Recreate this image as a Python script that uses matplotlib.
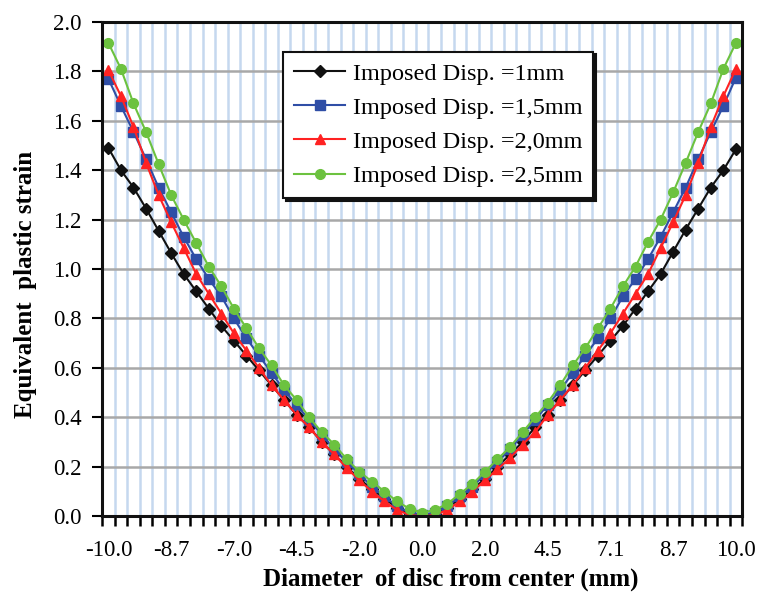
import matplotlib.pyplot as plt
from matplotlib.ticker import FixedLocator, NullFormatter

plt.rcParams['font.family'] = ['Liberation Serif', 'DejaVu Serif']

# 51 mesh nodes along the diameter, plotted as evenly spaced categories
n_points = 51
tick_idx = [0, 5, 10, 15, 20, 25, 30, 35, 40, 45, 50]
tick_labels = ['-10.0', '-8.7', '-7.0', '-4.5', '-2.0', '0.0',
               '2.0', '4.5', '7.1', '8.7', '10.0']

disp_1 = [1.49, 1.40, 1.33, 1.245, 1.155, 1.065, 0.98, 0.91, 0.84, 0.77,
          0.71, 0.65, 0.59, 0.53, 0.47, 0.41, 0.36, 0.30, 0.25, 0.20,
          0.15, 0.11, 0.07, 0.035, 0.01, 0.0, 0.01, 0.035, 0.07, 0.11,
          0.15, 0.20, 0.25, 0.30, 0.36, 0.41, 0.47, 0.53, 0.59, 0.65,
          0.71, 0.77, 0.84, 0.91, 0.98, 1.07, 1.16, 1.245, 1.33, 1.40, 1.485]
disp_15 = [1.77, 1.66, 1.555, 1.445, 1.33, 1.23, 1.13, 1.04, 0.96, 0.89,
           0.80, 0.72, 0.65, 0.58, 0.51, 0.45, 0.39, 0.33, 0.27, 0.22,
           0.17, 0.12, 0.08, 0.04, 0.015, 0.005, 0.015, 0.04, 0.08, 0.12,
           0.17, 0.22, 0.27, 0.33, 0.39, 0.45, 0.51, 0.58, 0.65, 0.72,
           0.80, 0.89, 0.96, 1.04, 1.13, 1.23, 1.33, 1.445, 1.555, 1.66, 1.775]
disp_20 = [1.805, 1.70, 1.575, 1.43, 1.30, 1.19, 1.085, 0.98, 0.90, 0.82,
           0.74, 0.67, 0.60, 0.53, 0.47, 0.41, 0.36, 0.30, 0.25, 0.195,
           0.145, 0.10, 0.06, 0.025, 0.005, 0.0, 0.005, 0.025, 0.06, 0.10,
           0.145, 0.19, 0.235, 0.29, 0.34, 0.41, 0.47, 0.53, 0.60, 0.67,
           0.74, 0.82, 0.90, 0.98, 1.085, 1.19, 1.30, 1.43, 1.575, 1.70, 1.81]
disp_25 = [1.915, 1.81, 1.67, 1.555, 1.425, 1.30, 1.20, 1.105, 1.01, 0.93,
           0.84, 0.76, 0.68, 0.61, 0.53, 0.47, 0.40, 0.34, 0.29, 0.23,
           0.18, 0.14, 0.10, 0.06, 0.03, 0.015, 0.025, 0.05, 0.09, 0.13,
           0.18, 0.23, 0.28, 0.34, 0.40, 0.46, 0.53, 0.61, 0.68, 0.76,
           0.84, 0.93, 1.01, 1.11, 1.20, 1.31, 1.43, 1.555, 1.67, 1.81, 1.915]

x = list(range(n_points))

fig = plt.figure(figsize=(7.62, 5.92), dpi=100)
ax = fig.add_axes([0.134, 0.128, 0.840, 0.835])

ax.plot(x, disp_1, '-D', color='#111111', lw=1.5, ms=6.5, label='Imposed Disp. =1mm')
ax.plot(x, disp_15, '-s', color='#2f4ea6', lw=1.5, ms=6.5, label='Imposed Disp. =1,5mm')
ax.plot(x, disp_20, '-^', color='#ff2222', lw=1.5, ms=7.5, label='Imposed Disp. =2,0mm')
ax.plot(x, disp_25, '-o', color='#6cc23f', lw=1.5, ms=7, label='Imposed Disp. =2,5mm')

ax.set_xlim(-0.5, n_points - 0.5)
ax.set_ylim(0, 2.0)

# category boundaries carry the tick marks and the blue grid
ax.xaxis.set_minor_locator(FixedLocator([i - 0.5 for i in range(n_points + 1)]))
ax.xaxis.set_minor_formatter(NullFormatter())
ax.set_xticks(tick_idx)
ax.set_xticklabels(tick_labels)
ax.tick_params(axis='x', which='major', length=0, pad=17, labelsize=16.5)
ax.tick_params(axis='x', which='minor', length=7, width=1.8, direction='out')
ax.grid(True, axis='x', which='minor', color='#c5d8ef', lw=1.8, zorder=0)

ax.set_yticks([i * 0.2 for i in range(11)])
ax.set_yticklabels(['%.1f' % (i * 0.2) for i in range(11)])
ax.tick_params(axis='y', length=7, width=1.5, pad=8, labelsize=16.5)
ax.grid(True, axis='y', which='major', color='#a8a8a8', lw=1.8, zorder=0)
ax.set_axisbelow(True)

for s in ax.spines.values():
    s.set_linewidth(2.2)
    s.set_color('#111111')

ax.set_xlabel('Diameter  of disc from center (mm)', fontsize=18,
              fontweight='bold')
ax.set_ylabel('Equivalent  plastic strain', fontsize=18,
              fontweight='bold')
ax.xaxis.set_label_coords(0.545, -0.104)
ax.yaxis.set_label_coords(-0.102, 0.468)

leg = ax.legend(loc='upper left', bbox_to_anchor=(0.283, 0.94), fontsize=17.5,
                fancybox=False, edgecolor='#111111', framealpha=1,
                shadow={'color': '#111111', 'alpha': 1}, handlelength=2.1,
                borderpad=0.45, labelspacing=0.5, handletextpad=0.3,
                borderaxespad=0)
leg.get_frame().set_linewidth(1.5)

fig.savefig('out.png', dpi=100)
